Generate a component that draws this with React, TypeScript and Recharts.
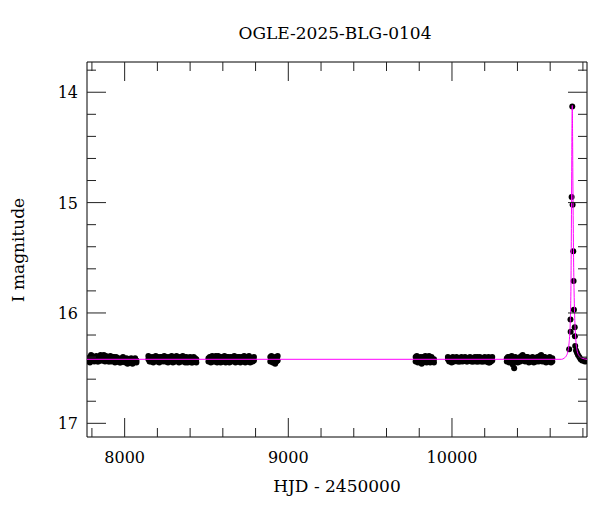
import React from 'react';
import { ComposedChart, Scatter, Line, XAxis, YAxis } from 'recharts';

// ---- photometry, season by season (HJD - 2450000, I mag); two measurements per epoch ----
const seasonA_t = [7782, 7788, 7795, 7801, 7808, 7814, 7820, 7827, 7833, 7840, 7846, 7853, 7860, 7866, 7873, 7880, 7886, 7893, 7900, 7907, 7913, 7920, 7927, 7934, 7941, 7948, 7955, 7962, 7969, 7976, 7983, 7990, 7997, 8004, 8011, 8018, 8025, 8032, 8040, 8048, 8056, 8064, 8072];
const seasonA_m = [16.41, 16.40, 16.38, 16.42, 16.43, 16.41, 16.40, 16.42, 16.44, 16.41, 16.40, 16.42, 16.43, 16.39, 16.38, 16.41, 16.43, 16.42, 16.40, 16.44, 16.42, 16.41, 16.43, 16.40, 16.42, 16.44, 16.41, 16.43, 16.42, 16.45, 16.41, 16.43, 16.44, 16.42, 16.44, 16.43, 16.45, 16.42, 16.44, 16.43, 16.45, 16.44, 16.43];
const seasonA_m2 = [16.44, 16.45, 16.42, 16.39, 16.40, 16.44, 16.43, 16.39, 16.41, 16.44, 16.43, 16.38, 16.40, 16.43, 16.42, 16.44, 16.39, 16.40, 16.44, 16.41, 16.39, 16.44, 16.40, 16.43, 16.45, 16.40, 16.44, 16.41, 16.45, 16.42, 16.44, 16.40, 16.42, 16.45, 16.41, 16.46, 16.42, 16.45, 16.41, 16.46, 16.42, 16.41, 16.45];

const seasonB_t = [8145, 8152, 8160, 8167, 8175, 8182, 8190, 8197, 8205, 8212, 8220, 8227, 8235, 8242, 8250, 8257, 8265, 8272, 8280, 8287, 8295, 8302, 8310, 8317, 8325, 8332, 8340, 8347, 8355, 8362, 8370, 8377, 8385, 8392, 8400, 8407, 8415, 8422, 8430, 8438];
const seasonB_m = [16.42, 16.44, 16.41, 16.43, 16.42, 16.40, 16.43, 16.41, 16.44, 16.42, 16.40, 16.43, 16.41, 16.42, 16.44, 16.40, 16.42, 16.43, 16.41, 16.39, 16.42, 16.44, 16.41, 16.43, 16.40, 16.42, 16.44, 16.41, 16.43, 16.40, 16.42, 16.44, 16.42, 16.41, 16.43, 16.45, 16.42, 16.44, 16.43, 16.42];
const seasonB_m2 = [16.39, 16.41, 16.44, 16.40, 16.45, 16.43, 16.39, 16.44, 16.40, 16.45, 16.43, 16.40, 16.44, 16.39, 16.41, 16.44, 16.45, 16.40, 16.44, 16.43, 16.45, 16.40, 16.44, 16.39, 16.43, 16.45, 16.40, 16.44, 16.39, 16.44, 16.45, 16.40, 16.45, 16.44, 16.40, 16.42, 16.45, 16.40, 16.41, 16.45];

const seasonC_t = [8512, 8520, 8527, 8535, 8542, 8550, 8557, 8565, 8572, 8580, 8587, 8595, 8602, 8610, 8617, 8625, 8632, 8640, 8647, 8655, 8662, 8670, 8677, 8685, 8692, 8700, 8707, 8715, 8722, 8730, 8737, 8745, 8752, 8760, 8767, 8775, 8782, 8790];
const seasonC_m = [16.41, 16.43, 16.40, 16.42, 16.44, 16.41, 16.39, 16.42, 16.43, 16.40, 16.42, 16.44, 16.41, 16.43, 16.42, 16.40, 16.43, 16.41, 16.44, 16.42, 16.40, 16.43, 16.41, 16.42, 16.44, 16.40, 16.42, 16.43, 16.41, 16.39, 16.42, 16.44, 16.41, 16.43, 16.42, 16.44, 16.41, 16.43];
const seasonC_m2 = [16.44, 16.40, 16.45, 16.39, 16.41, 16.44, 16.43, 16.45, 16.39, 16.44, 16.45, 16.40, 16.44, 16.39, 16.45, 16.43, 16.40, 16.45, 16.40, 16.44, 16.43, 16.39, 16.45, 16.44, 16.40, 16.43, 16.45, 16.40, 16.44, 16.43, 16.45, 16.40, 16.44, 16.39, 16.45, 16.41, 16.44, 16.40];

const seasonD_t = [8890, 8897, 8905, 8912, 8920, 8927, 8935];
const seasonD_m = [16.40, 16.43, 16.45, 16.41, 16.46, 16.42, 16.39];
const seasonD_m2 = [16.44, 16.39, 16.42, 16.45, 16.40, 16.44, 16.43];

const seasonE_t = [9778, 9785, 9792, 9800, 9807, 9815, 9822, 9830, 9837, 9845, 9852, 9860, 9867, 9875, 9882, 9890];
const seasonE_m = [16.40, 16.43, 16.41, 16.44, 16.40, 16.42, 16.45, 16.41, 16.43, 16.40, 16.44, 16.42, 16.41, 16.43, 16.44, 16.42];
const seasonE_m2 = [16.44, 16.39, 16.45, 16.41, 16.43, 16.46, 16.40, 16.44, 16.39, 16.45, 16.41, 16.39, 16.45, 16.40, 16.42, 16.45];

const seasonF_t = [9975, 9983, 9990, 9998, 10005, 10013, 10020, 10028, 10035, 10043, 10050, 10058, 10065, 10073, 10080, 10088, 10095, 10103, 10110, 10118, 10125, 10133, 10140, 10148, 10155, 10163, 10170, 10178, 10185, 10193, 10200, 10208, 10215, 10223, 10230, 10238, 10246];
const seasonF_m = [16.42, 16.43, 16.41, 16.42, 16.44, 16.42, 16.41, 16.43, 16.42, 16.44, 16.41, 16.43, 16.42, 16.41, 16.43, 16.44, 16.42, 16.41, 16.43, 16.42, 16.44, 16.41, 16.43, 16.42, 16.44, 16.42, 16.43, 16.41, 16.44, 16.42, 16.43, 16.41, 16.44, 16.40, 16.45, 16.41, 16.43];
const seasonF_m2 = [16.40, 16.44, 16.43, 16.45, 16.40, 16.44, 16.43, 16.40, 16.44, 16.41, 16.44, 16.40, 16.44, 16.43, 16.40, 16.41, 16.44, 16.43, 16.40, 16.44, 16.41, 16.44, 16.40, 16.44, 16.40, 16.44, 16.40, 16.44, 16.41, 16.44, 16.40, 16.44, 16.41, 16.45, 16.41, 16.44, 16.40];

const seasonG_t = [10335, 10342, 10350, 10357, 10365, 10372, 10380, 10387, 10395, 10402, 10410, 10417, 10425, 10432, 10440, 10447, 10455, 10462, 10470, 10477, 10485, 10492, 10500, 10507, 10515, 10522, 10530, 10537, 10545, 10552, 10560, 10567, 10575, 10582, 10590, 10597, 10605, 10613];
const seasonG_m = [16.41, 16.43, 16.40, 16.44, 16.42, 16.47, 16.50, 16.43, 16.41, 16.42, 16.44, 16.40, 16.39, 16.42, 16.43, 16.41, 16.40, 16.43, 16.42, 16.44, 16.41, 16.43, 16.42, 16.44, 16.41, 16.43, 16.40, 16.39, 16.42, 16.41, 16.43, 16.40, 16.42, 16.44, 16.41, 16.43, 16.42, 16.44];
const seasonG_m2 = [16.44, 16.40, 16.45, 16.41, 16.39, 16.43, 16.44, 16.40, 16.44, 16.45, 16.41, 16.44, 16.43, 16.38, 16.40, 16.44, 16.43, 16.40, 16.45, 16.41, 16.44, 16.40, 16.45, 16.41, 16.44, 16.40, 16.44, 16.43, 16.38, 16.44, 16.40, 16.44, 16.45, 16.41, 16.44, 16.40, 16.45, 16.41];

const eventH_t = [10716, 10724, 10725, 10731, 10735, 10737, 10741, 10743, 10745, 10750, 10751, 10753, 10758, 10764, 10770, 10778, 10786, 10795, 10803, 10812, 10820];
const eventH_m = [16.33, 16.06, 16.17, 14.95, 14.13, 15.02, 15.44, 15.71, 15.97, 16.13, 16.21, 16.30, 16.34, 16.36, 16.38, 16.40, 16.42, 16.43, 16.43, 16.44, 16.43];

// ---- microlensing model curve ----
const model_t = [7770, 10670, 10685, 10698, 10708, 10715, 10720, 10724, 10727, 10729, 10731, 10733, 10735, 10737, 10739, 10741, 10743, 10746, 10749, 10753, 10758, 10766, 10778, 10795, 10825];
const model_m = [16.42, 16.42, 16.41, 16.39, 16.35, 16.28, 16.18, 16.02, 15.75, 15.35, 14.85, 14.35, 14.12, 14.40, 14.85, 15.20, 15.50, 15.80, 16.00, 16.15, 16.27, 16.35, 16.39, 16.41, 16.42];

// ---- axes ----
const xTicks = [7800, 8000, 8200, 8400, 8600, 8800, 9000, 9200, 9400, 9600, 9800, 10000, 10200, 10400, 10600, 10800];
const xMajor = [8000, 9000, 10000];
const yTicks = [13.8, 14.0, 14.2, 14.4, 14.6, 14.8, 15.0, 15.2, 15.4, 15.6, 15.8, 16.0, 16.2, 16.4, 16.6, 16.8, 17.0];
const yMajor = [14, 15, 16, 17];
const xDomain: [number, number] = [7770, 10825];
const yDomain: [number, number] = [13.726, 17.124];

const seasons: [number[], number[]][] = [
  [seasonA_t, seasonA_m], [seasonA_t, seasonA_m2],
  [seasonB_t, seasonB_m], [seasonB_t, seasonB_m2],
  [seasonC_t, seasonC_m], [seasonC_t, seasonC_m2],
  [seasonD_t, seasonD_m], [seasonD_t, seasonD_m2],
  [seasonE_t, seasonE_m], [seasonE_t, seasonE_m2],
  [seasonF_t, seasonF_m], [seasonF_t, seasonF_m2],
  [seasonG_t, seasonG_m], [seasonG_t, seasonG_m2],
  [eventH_t, eventH_m],
];
const points = seasons.flatMap(([ts, ms]) => ts.map((t, i) => ({ t, m: ms[i] })));
const model = model_t.map((t, i) => ({ t, m: model_m[i] }));

const FONT = '"DejaVu Serif", serif';
const MAJOR = 19;
const MINOR = 9;
const TICK_COLOR = '#222';
const isXMajor = (v: number) => xMajor.some((m) => Math.abs(m - v) < 1e-6);
const isYMajor = (v: number) => yMajor.some((m) => Math.abs(m - v) < 1e-6);

const BottomTick = (p: any) => {
  const { x, y, payload } = p;
  const major = isXMajor(payload.value);
  return (
    <g>
      <line x1={x} x2={x} y1={y} y2={y - (major ? MAJOR : MINOR)} stroke={TICK_COLOR} strokeWidth={1} />
      {major && (
        <text x={x} y={y + 26} textAnchor="middle" fontFamily={FONT} fontSize={16} fill="#000">
          {payload.value}
        </text>
      )}
    </g>
  );
};
const TopTick = (p: any) => {
  const { x, y, payload } = p;
  const major = isXMajor(payload.value);
  return <line x1={x} x2={x} y1={y} y2={y + (major ? MAJOR : MINOR)} stroke={TICK_COLOR} strokeWidth={1} />;
};
const LeftTick = (p: any) => {
  const { x, y, payload } = p;
  const major = isYMajor(payload.value);
  return (
    <g>
      <line x1={x} x2={x + (major ? MAJOR : MINOR)} y1={y} y2={y} stroke={TICK_COLOR} strokeWidth={1} />
      {major && (
        <text x={x - 9} y={y + 6} textAnchor="end" fontFamily={FONT} fontSize={16} fill="#000">
          {Math.round(payload.value)}
        </text>
      )}
    </g>
  );
};
const RightTick = (p: any) => {
  const { x, y, payload } = p;
  const major = isYMajor(payload.value);
  return <line x1={x} x2={x - (major ? MAJOR : MINOR)} y1={y} y2={y} stroke={TICK_COLOR} strokeWidth={1} />;
};

const Dot = (p: any) => <circle cx={p.cx} cy={p.cy} r={3} fill="#000" />;

export default function App() {
  return (
    <div style={{ position: 'absolute', left: 0, top: 0, width: 600, height: 512, background: '#fff' }}>
      <ComposedChart width={600} height={512} margin={{ top: 0, right: 0, bottom: 0, left: 0 }}>
        <XAxis
          xAxisId={0}
          dataKey="t"
          type="number"
          domain={xDomain}
          allowDataOverflow
          ticks={xTicks}
          interval={0}
          orientation="bottom"
          height={75}
          tickSize={0}
          tickMargin={0}
          tickLine={false}
          tick={<BottomTick />}
          axisLine={{ stroke: '#000', strokeWidth: 1 }}
        />
        <XAxis
          xAxisId="top"
          dataKey="t"
          type="number"
          domain={xDomain}
          allowDataOverflow
          ticks={xTicks}
          interval={0}
          orientation="top"
          height={62}
          tickSize={0}
          tickMargin={0}
          tickLine={false}
          tick={<TopTick />}
          axisLine={{ stroke: '#000', strokeWidth: 1 }}
        />
        <YAxis
          yAxisId={0}
          dataKey="m"
          type="number"
          domain={yDomain}
          allowDataOverflow
          reversed
          ticks={yTicks}
          interval={0}
          orientation="left"
          width={87}
          tickSize={0}
          tickMargin={0}
          tickLine={false}
          tick={<LeftTick />}
          axisLine={{ stroke: '#000', strokeWidth: 1 }}
        />
        <YAxis
          yAxisId="right"
          dataKey="m"
          type="number"
          domain={yDomain}
          allowDataOverflow
          reversed
          ticks={yTicks}
          interval={0}
          orientation="right"
          width={13}
          tickSize={0}
          tickMargin={0}
          tickLine={false}
          tick={<RightTick />}
          axisLine={{ stroke: '#000', strokeWidth: 1 }}
        />
        <Scatter data={points} xAxisId={0} yAxisId={0} shape={Dot} isAnimationActive={false} />
        <Line
          data={model}
          xAxisId={0}
          yAxisId={0}
          dataKey="m"
          type="monotone"
          stroke="#ff00ff"
          strokeWidth={1}
          dot={false}
          activeDot={false}
          isAnimationActive={false}
          {...({ zIndex: 700 } as any)}
        />
        <Scatter data={model} xAxisId="top" yAxisId="right" shape={() => null} isAnimationActive={false} />
      </ComposedChart>
      <svg width={600} height={512} style={{ position: 'absolute', left: 0, top: 0, pointerEvents: 'none' }}>
        <text x={335} y={39} textAnchor="middle" fontFamily={FONT} fontSize={17} fill="#000">
          OGLE-2025-BLG-0104
        </text>
        <text x={337} y={492} textAnchor="middle" fontFamily={FONT} fontSize={17} fill="#000">
          HJD - 2450000
        </text>
        <text x={24} y={250} textAnchor="middle" fontFamily={FONT} fontSize={17} fill="#000" transform="rotate(-90 24 250)">
          I magnitude
        </text>
      </svg>
    </div>
  );
}
